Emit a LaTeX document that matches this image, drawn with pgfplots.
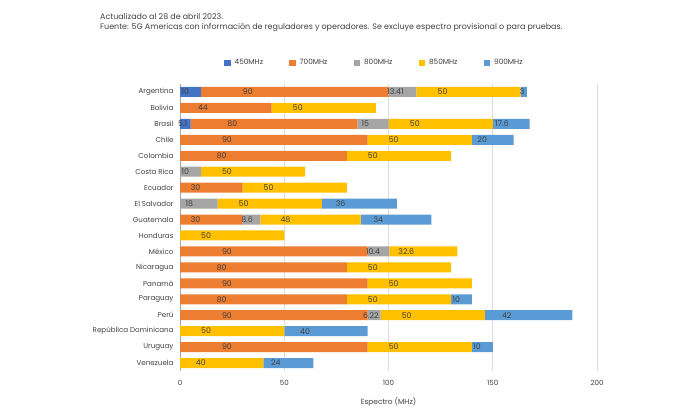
\documentclass[border=0pt]{standalone}
\usepackage{pgfplots}
\pgfplotsset{compat=1.18}
\usepackage{pgfplotstable}
\usepackage{fontspec}
\setmainfont{Poppins}

\definecolor{c450}{HTML}{4472C4}
\definecolor{c700}{HTML}{ED7D31}
\definecolor{c800}{HTML}{A5A5A5}
\definecolor{c850}{HTML}{FFC000}
\definecolor{c900}{HTML}{5B9BD5}
\definecolor{txt}{HTML}{404040}
\definecolor{gridc}{HTML}{DCDCDC}

% Spectrum assigned per band (MHz), one row per country
\pgfplotstableread{
idx v450 v700 v800  v850 v900
0   10   90   13.41 50   3
1   0    44   0     50   0
2   5.1  80   15    50   17.6
3   0    90   0     50   20
4   0    80   0     50   0
5   0    0    10    50   0
6   0    30   0     50   0
7   0    0    18    50   36
8   0    30   8.6   48   34
9   0    0    0     50   0
10  0    90   10.4  32.6 0
11  0    80   0     50   0
12  0    90   0     50   0
13  0    80   0     50   10
14  0    90   6.22  50   42
15  0    0    0     50   40
16  0    90   0     50   10
17  0    0    0     40   24
}\spectrum

\begin{document}
\begin{tikzpicture}
\path[use as bounding box] (0,0) rectangle (696pt,418pt);
\node[anchor=north west, align=left, text=txt, font=\fontsize{7.95}{10}\selectfont, inner sep=0pt]
  at (100pt,405pt) {Actualizado al 28 de abril 2023.\\Fuente: 5G Americas con información de reguladores y operadores. Se excluye espectro provisional o para pruebas.};
\begin{axis}[
  at={(180pt,47pt)}, anchor=south west,
  scale only axis, width=417pt, height=287pt,
  xbar stacked, bar width=10pt,
  xmin=0, xmax=200, ymin=-0.5, ymax=17.5,
  y dir=reverse,
  ytick={0,...,17},
  yticklabels={Argentina,Bolivia,Brasil,Chile,Colombia,Costa Rica,Ecuador,El Salvador,Guatemala,Honduras,México,Nicaragua,Panamá,Paraguay,Perú,República Dominicana,Uruguay,Venezuela},
  xtick={0,50,100,150,200},
  axis line style={draw=none},
  major tick length=0pt,
  xmajorgrids, grid style={gridc, line width=0.6pt},
  extra x ticks={0}, extra x tick labels={},
  extra x tick style={grid style={draw=black!35, line width=0.7pt}},
  tick label style={text=txt, font=\fontsize{7.1}{8}\selectfont},
  yticklabel style={xshift=-3pt},
  xticklabel style={yshift=-6pt},
  /pgf/number format/assume math mode=true,
  xlabel={Espectro (MHz)},
  xlabel style={text=txt, font=\fontsize{7.4}{9}\selectfont, yshift=-5pt},
  point meta=explicit,
  visualization depends on=rawx \as \rawx,
  nodes near coords={\pgfmathfloatifflags{\pgfplotspointmeta}{0}{}{\pgfmathprintnumber[precision=2]{\pgfplotspointmeta}}},
  every node near coord/.append style={anchor=center, text=txt, font=\fontsize{7.8}{8}\selectfont, xshift={-0.52125pt*\rawx}},
  legend columns=5,
  legend style={at={(0.098,1.073)}, anchor=west, draw=none, fill=none,
    font=\fontsize{7.3}{8}\selectfont, text=txt,
    /tikz/every odd column/.append style={column sep=2pt},
    /tikz/every even column/.append style={column sep=24pt}},
  legend image code/.code={\fill[#1] (0pt,-3.3pt) rectangle (6.6pt,3.3pt);},
]
\addplot[fill=c450, draw=none] table[x=v450, y=idx, meta=v450] {\spectrum};
\addplot[fill=c700, draw=none] table[x=v700, y=idx, meta=v700] {\spectrum};
\addplot[fill=c800, draw=none] table[x=v800, y=idx, meta=v800] {\spectrum};
\addplot[fill=c850, draw=none] table[x=v850, y=idx, meta=v850] {\spectrum};
\addplot[fill=c900, draw=none] table[x=v900, y=idx, meta=v900] {\spectrum};
\legend{450MHz,700MHz,800MHz,850MHz,900MHz}
\end{axis}
\end{tikzpicture}
\end{document}
